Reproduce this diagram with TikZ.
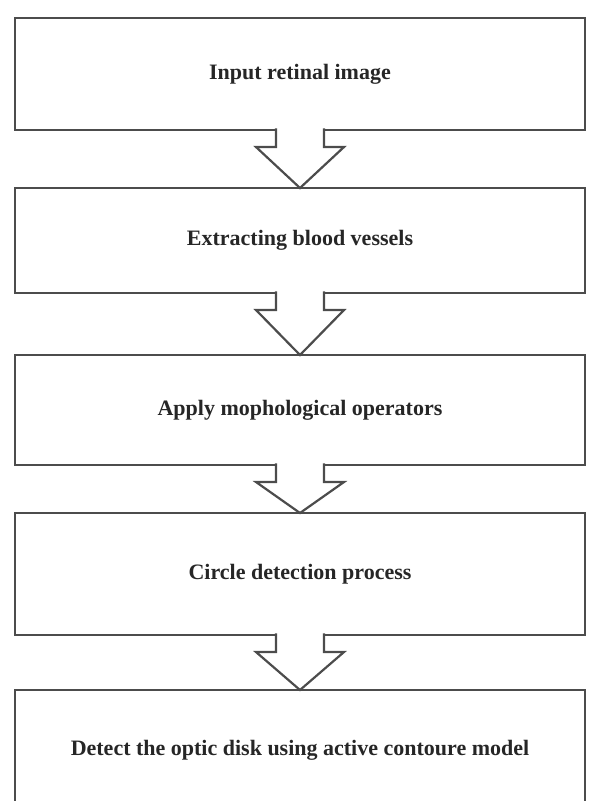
\documentclass[tikz,border=0pt]{standalone}
\usepackage{fontspec}
\setmainfont{Liberation Serif}
\usetikzlibrary{calc}

\begin{document}
\begin{tikzpicture}[x=1pt, y=-1pt,
  every node/.style={font=\fontsize{22}{26}\selectfont\bfseries, text=black!85},
  stage/.style={draw=black!70, line width=2.2pt, outer sep=0pt, minimum width=570pt, align=center},
  flow/.style={draw=black!70, line width=2.2pt, fill=white, line join=miter}]
\clip (0,0) rectangle (603,801);
\node[stage, minimum height=112pt] (inp) at (300,74) {Input retinal image};
\node[stage, minimum height=105pt] (ext) at (300,240.5) {Extracting blood vessels};
\node[stage, minimum height=110pt] (mor) at (300,410) {Apply mophological operators};
\node[stage, minimum height=122pt] (cir) at (300,574) {Circle detection process};
\node[stage, minimum height=120pt] (det) at (300,750) {Detect the optic disk using active contoure model};
% hollow block arrows between the stages
\foreach \a/\b in {inp/ext, ext/mor, mor/cir, cir/det}
  \draw[flow] ($(\a.south)+(-24,-1.6)$) -- ($(\a.south)+(-24,17)$) -- ($(\a.south)+(-44,17)$)
    -- (\b.north) -- ($(\a.south)+(44,17)$) -- ($(\a.south)+(24,17)$) -- ($(\a.south)+(24,-1.6)$);
\end{tikzpicture}
\end{document}
